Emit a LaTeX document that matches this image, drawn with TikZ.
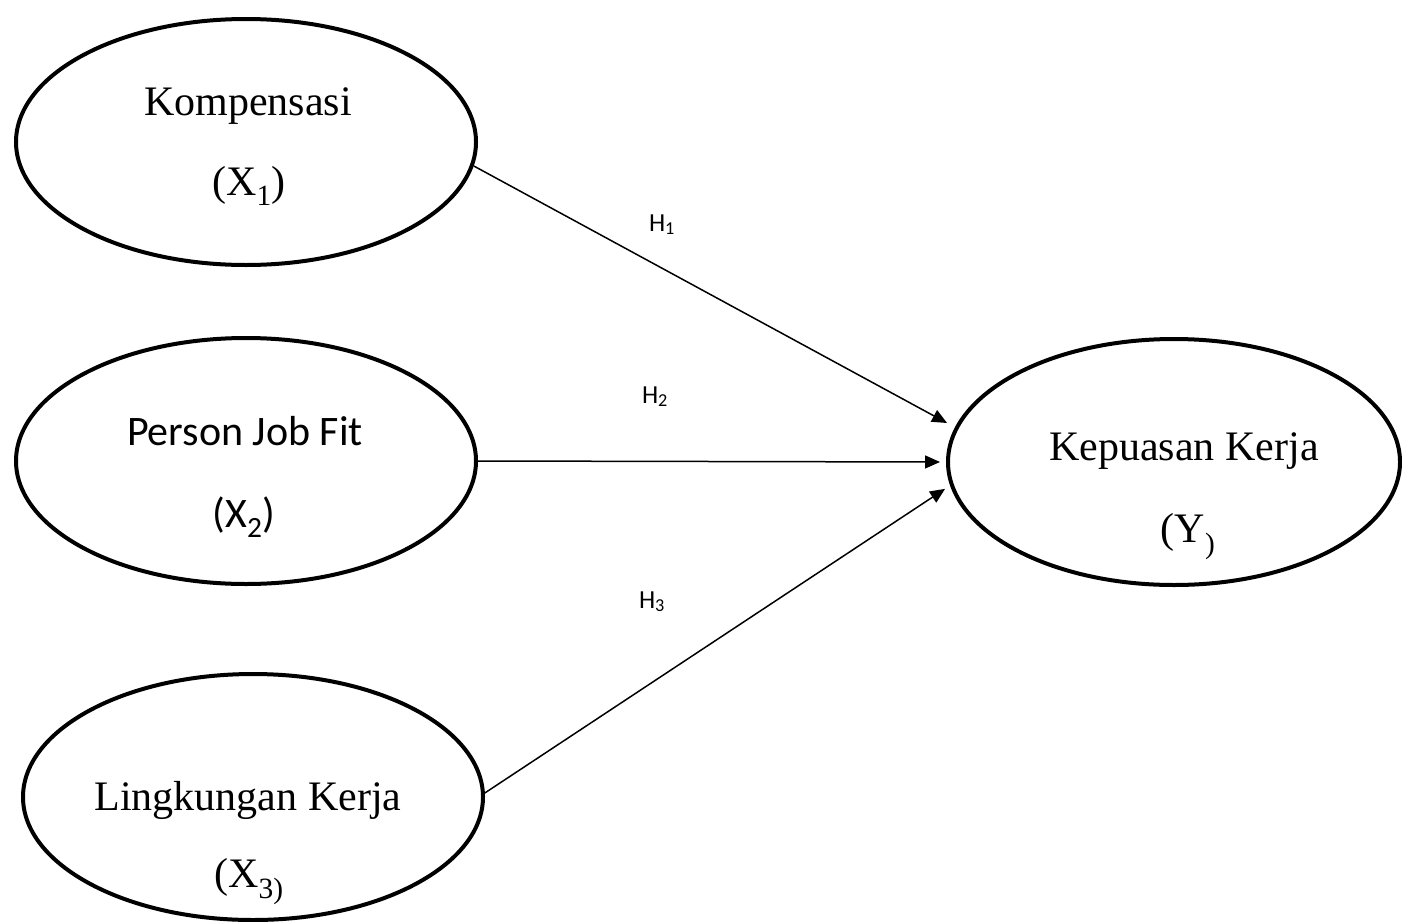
\documentclass[tikz,border=0pt]{standalone}
\usepackage{fontspec}
\setmainfont{Liberation Serif}
\newfontfamily\calfont{Carlito}
\usetikzlibrary{shapes.geometric,arrows.meta}
\tikzset{
  var/.style={ellipse,draw,line width=4pt,inner sep=0pt,minimum width=460pt,minimum height=246pt},
  serif/.style={anchor=base,inner sep=0pt,font=\fontsize{42}{50}\selectfont},
  sans/.style={anchor=base,inner sep=0pt,font=\calfont\fontsize{42}{50}\selectfont},
  hyp/.style={anchor=base,inner sep=0pt,font=\calfont\fontsize{26}{30}\selectfont},
  arr/.style={line width=1.5pt,-{Triangle[length=15pt,width=13pt]}}
}
\begin{document}
\begin{tikzpicture}[x=1pt,y=-1pt]
\useasboundingbox (0,0) rectangle (1402,921);
\node[var] (k) at (246,142) {};
\node[var] (p) at (246,461) {};
\node[var] (l) at (253,797) {};
\node[var,minimum width=452pt] (y) at (1174,462) {};
\node[serif] (kt) at (248,115) {Kompensasi};
\node[serif] (kx) at (249,195) {(X\textsubscript{1})};
\node[sans] (pt) at (245,445) {Person Job Fit};
\node[sans] (px) at (244,527) {(X\textsubscript{2})};
\node[serif] (lt) at (248,810) {Lingkungan Kerja};
\node[serif] (lx) at (249,887) {(X\textsubscript{3)}};
\node[serif] (yt) at (1184,460) {Kepuasan Kerja};
\node[serif] (yx) at (1188,542) {(Y\textsubscript{)}};
\draw[arr,shorten >=9pt] (k.-6) -- (y.171);
\draw[arr,shorten >=6pt] (p.0) -- (y.180);
\draw[arr,shorten >=6pt] (l.1) -- (y.186);
\node[hyp] (h1) at (662,231) {H\textsubscript{1}};
\node[hyp] (h2) at (655,403) {H\textsubscript{2}};
\node[hyp] (h3) at (652,608) {H\textsubscript{3}};
\end{tikzpicture}
\end{document}
